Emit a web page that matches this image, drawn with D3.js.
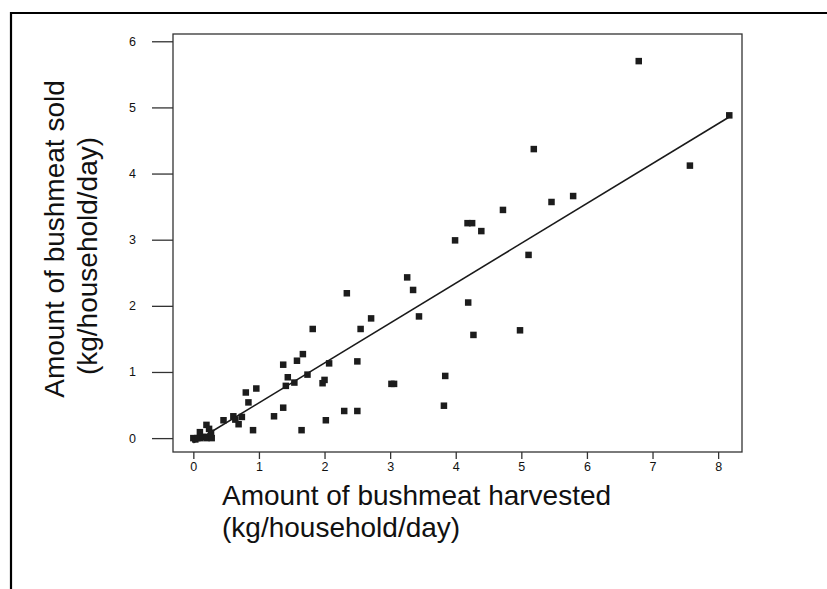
<!DOCTYPE html>
<html>
<head>
<meta charset="utf-8">
<script src="https://cdn.jsdelivr.net/npm/d3@7"></script>
<style>
  html, body { margin: 0; padding: 0; background: #fff; }
  svg { display: block; }
  text { font-family: "Liberation Sans", Arial, sans-serif; fill: #111; }
</style>
</head>
<body>
<svg id="chart" width="827" height="589"></svg>
<script>
// Data: harvested (x) vs sold (y), kg/household/day
const harvested = [0.00, 0.03, 0.06, 0.10, 0.15, 0.20, 0.28, 0.10, 0.20, 0.24, 0.27,
  0.46, 0.61, 0.64, 0.69, 0.74, 0.80, 0.84, 0.91, 0.96, 1.23, 1.37, 1.37, 1.41, 1.44,
  1.54, 1.58, 1.65, 1.67, 1.74, 1.82, 1.97, 2.00, 2.02, 2.07, 2.30, 2.34, 2.50, 2.50,
  2.55, 2.71, 3.02, 3.06, 3.26, 3.35, 3.44, 3.82, 3.84, 3.99, 4.18, 4.25, 4.19, 4.27,
  4.39, 4.72, 4.98, 5.11, 5.19, 5.46, 5.79, 6.79, 7.57, 8.17];
const sold = [0.00, -0.02, 0.00, 0.00, 0.02, 0.00, 0.00, 0.09, 0.20, 0.14, 0.08,
  0.27, 0.33, 0.28, 0.21, 0.32, 0.69, 0.54, 0.12, 0.75, 0.33, 0.46, 1.11, 0.79, 0.92,
  0.84, 1.17, 0.12, 1.27, 0.96, 1.65, 0.83, 0.88, 0.27, 1.13, 0.41, 2.19, 0.41, 1.16,
  1.65, 1.81, 0.82, 0.82, 2.43, 2.24, 1.84, 0.49, 0.94, 2.99, 3.25, 3.25, 2.05, 1.56,
  3.13, 3.45, 1.63, 2.77, 4.37, 3.57, 3.66, 5.70, 4.12, 4.88];
// Fitted regression line (intercept, slope) and its x extent
const fitIntercept = -0.07;
const fitSlope = 0.603;
const fitRange = [0, 8.2];
const xTicks = [0, 1, 2, 3, 4, 5, 6, 7, 8];
const yTicks = [0, 1, 2, 3, 4, 5, 6];
const xTitle = ["Amount of bushmeat harvested", "(kg/household/day)"];
const yTitle = ["Amount of bushmeat sold", "(kg/household/day)"];

const svg = d3.select("#chart");
const box = {left: 173, right: 742, top: 34, bottom: 452};

const x = d3.scaleLinear().domain([-0.31, 8.364]).range([box.left, box.right]);
const y = d3.scaleLinear().domain([-0.21, 6.11]).range([box.bottom, box.top]);

// outer frame (left and top edges visible)
svg.append("path")
  .attr("d", `M11,589 L11,13 L827,13`)
  .attr("fill", "none").attr("stroke", "#000").attr("stroke-width", 2.2);

// plot box
svg.append("rect")
  .attr("x", box.left).attr("y", box.top)
  .attr("width", box.right - box.left).attr("height", box.bottom - box.top)
  .attr("fill", "none").attr("stroke", "#333").attr("stroke-width", 1.3);

const tickFont = "'Liberation Sans Narrow', 'Arial Narrow', 'Liberation Sans', sans-serif";

// x axis ticks
const xAxis = d3.axisBottom(x).tickValues(xTicks).tickSize(7).tickPadding(3)
  .tickFormat(d3.format("d"));
const gx = svg.append("g").attr("transform", `translate(0,${box.bottom})`).call(xAxis);
gx.select(".domain").remove();
gx.selectAll(".tick line").attr("stroke", "#333").attr("stroke-width", 1.3);
gx.selectAll(".tick text").attr("font-size", 12.5).attr("fill", "#111").attr("font-family", tickFont);

// y axis ticks
const yAxis = d3.axisLeft(y).tickValues(yTicks).tickSize(21).tickPadding(16)
  .tickFormat(d3.format("d"));
const gy = svg.append("g").attr("transform", `translate(${box.left},0)`).call(yAxis);
gy.select(".domain").remove();
gy.selectAll(".tick line").attr("stroke", "#333").attr("stroke-width", 1.3);
gy.selectAll(".tick text").attr("font-size", 12.5).attr("fill", "#111").attr("font-family", tickFont);

// regression line
svg.append("line")
  .attr("x1", x(fitRange[0])).attr("y1", y(fitIntercept + fitSlope * fitRange[0]))
  .attr("x2", x(fitRange[1])).attr("y2", y(fitIntercept + fitSlope * fitRange[1]))
  .attr("stroke", "#1a1a1a").attr("stroke-width", 1.6);

// points
const pts = harvested.map((h, i) => ({h, s: sold[i]}));
const sz = 6.5;
svg.append("g").selectAll("rect").data(pts).join("rect")
  .attr("x", d => x(d.h) - sz / 2).attr("y", d => y(d.s) - sz / 2)
  .attr("width", sz).attr("height", sz)
  .attr("fill", "#1c1c1c");

// x title
const xt = svg.append("text").attr("font-size", 28).attr("x", 222);
xt.selectAll("tspan").data(xTitle).join("tspan")
  .attr("x", 222).attr("y", (d, i) => 505 + i * 32).text(d => d);

// y title
const yPos = [{cx: 64, cy: 239}, {cx: 97, cy: 256}];
svg.selectAll(".ytitle").data(yTitle).join("text").attr("class", "ytitle")
  .attr("font-size", 28).attr("text-anchor", "middle")
  .attr("transform", (d, i) => `translate(${yPos[i].cx},${yPos[i].cy}) rotate(-90)`)
  .text(d => d);
</script>
</body>
</html>
